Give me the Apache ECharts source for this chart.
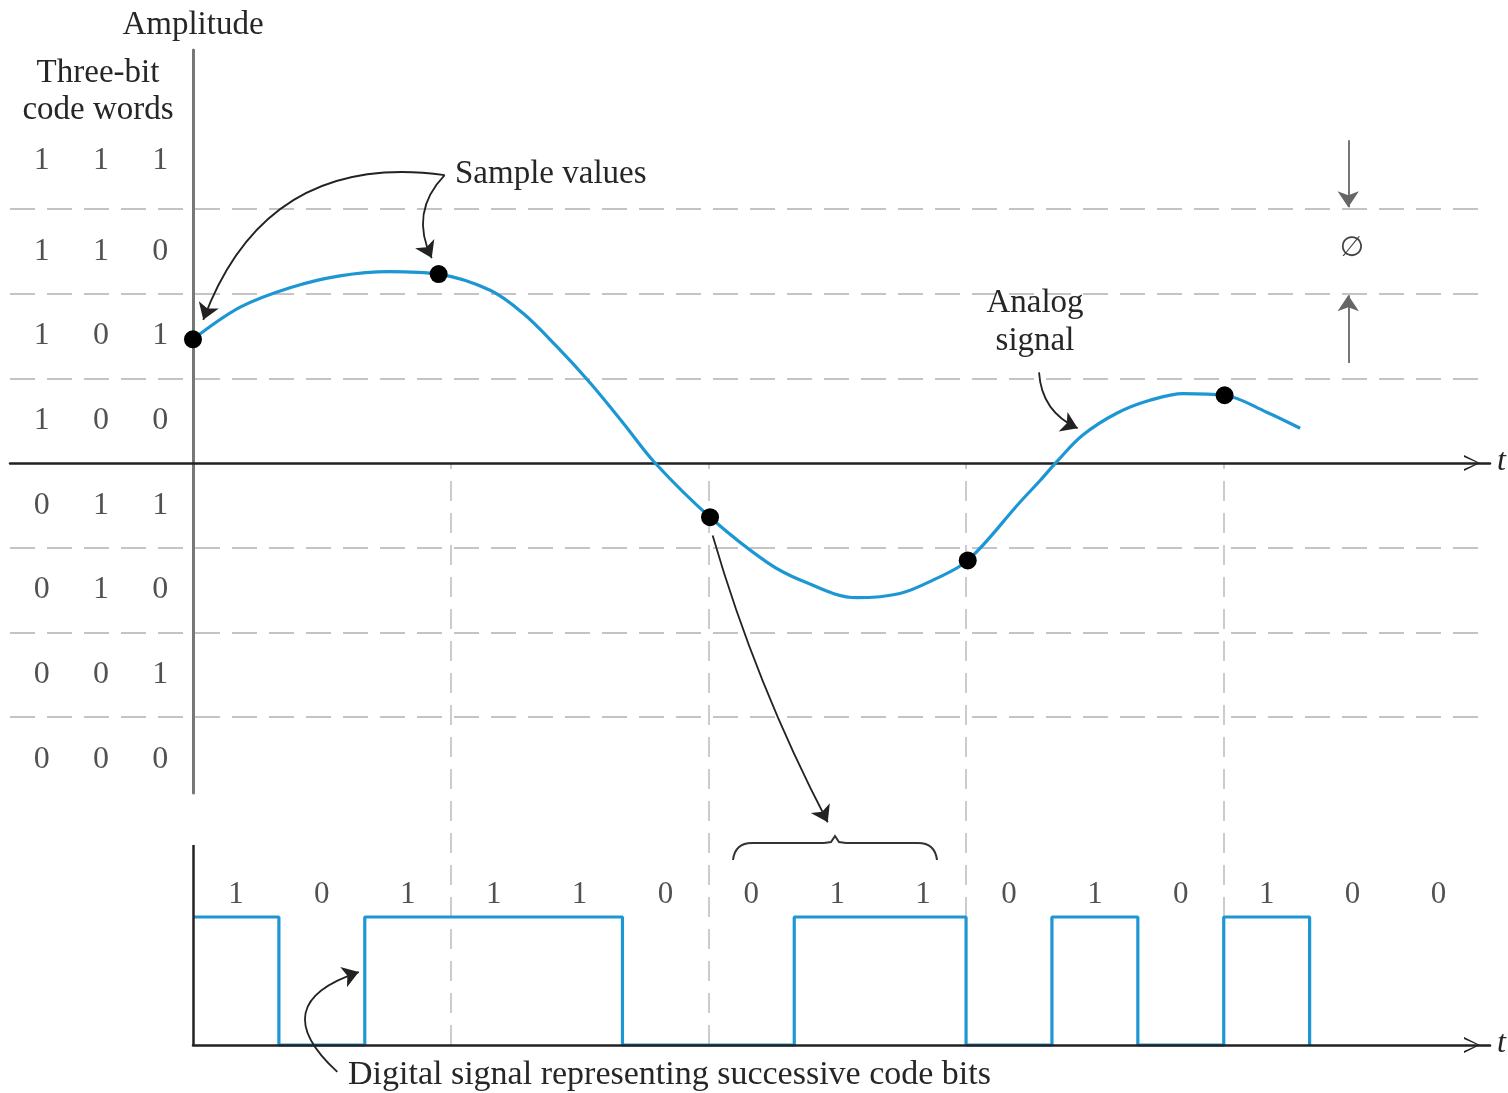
<!DOCTYPE html>
<html>
<head>
<meta charset="utf-8">
<script src="https://cdn.jsdelivr.net/npm/echarts@6/dist/echarts.min.js"></script>
<style>html,body{margin:0;padding:0;background:#fff;}#c{width:1508px;height:1093px;}</style>
</head>
<body>
<div id="c"></div>
<script>
// ---- data ----
const analogT = [0, 0.55, 1.13, 1.71, 2.29, 2.86, 3.46, 3.84, 4.24, 4.62, 5.01, 5.38, 6.02, 6.68, 7.07, 7.73, 8.23, 8.62, 9.02, 9.63, 9.86, 10.06, 10.36, 10.76, 11.14, 11.53, 12.01, 12.50, 12.89];
const analogV = [1.46, 1.84, 2.07, 2.21, 2.26, 2.23, 2.04, 1.77, 1.37, 0.95, 0.47, 0, -0.64, -1.17, -1.38, -1.59, -1.54, -1.38, -1.15, -0.46, -0.21, 0.02, 0.33, 0.59, 0.74, 0.82, 0.80, 0.60, 0.41];
const sampleT = [0, 2.86, 6.02, 9.02, 12.01];
const sampleV = [1.46, 2.23, -0.64, -1.15, 0.80];
const codeWords = ["111", "110", "101", "100", "011", "010", "001", "000"];
const codeRowV = [3.57, 2.5, 1.5, 0.5, -0.5, -1.5, -2.5, -3.5];
const codeColT = [-1.76, -1.07, -0.38];
const levelBounds = [-3, -2, -1, 1, 2, 3];
const sampleGridT = [3, 6, 9, 12];
const bits = [1, 0, 1, 1, 1, 0, 0, 1, 1, 0, 1, 0, 1, 0, 0];
const bitLabelU = 1.17;

// ---- derived ----
const FONT = "'Liberation Serif', 'DejaVu Serif', serif";
const TXT = '#262626';
const BLUE = '#1d97d4';
const U_TOP = 4.547;
const analogData = analogT.map((t, i) => [t, analogV[i]]);
const sampleData = sampleT.map((t, i) => [t, sampleV[i]]);
const codeData = [];
codeWords.forEach((w, r) => { for (let c = 0; c < 3; c++) codeData.push([codeColT[c], codeRowV[r], w[c]]); });
const lastOne = bits.lastIndexOf(1);
const digitalData = [];
for (let i = 0; i <= lastOne; i++) { digitalData.push([i, bits[i]]); digitalData.push([i + 1, bits[i]]); }
digitalData.push([lastOne + 1, 0]);
const bitLabelData = bits.map((b, i) => [i + 0.5, bitLabelU, String(b)]);

const chevron = 'path://M50,0 L100,100 L88,100 L50,14 L12,100 L0,100 Z';
const braceStyle = { stroke: '#333', lineWidth: 2, fill: null };

function arrow(from, to, curveness, color, width) {
  return { coords: [from, to], lineStyle: { curveness: curveness || 0, color: color || '#222', width: width || 1.8 } };
}
function arrowsSeries(g, items, symbols) {
  return { type: 'lines', coordinateSystem: 'cartesian2d', xAxisIndex: g, yAxisIndex: g, z: 6, clip: false, silent: true,
    symbol: symbols || ['none', 'arrow'], symbolSize: [10, 16],
    lineStyle: { color: '#222', width: 1.8, opacity: 1 }, data: items };
}
function txt(x, y, text, font, align) {
  return { type: 'text', x: x, y: y, z: 10, silent: true,
    style: { text: text, font: font, fill: TXT, textAlign: align || 'center', textVerticalAlign: 'middle' } };
}

const chart = echarts.init(document.getElementById('c'), null, { renderer: 'canvas' });
chart.setOption({
  backgroundColor: '#ffffff',
  animation: false,
  grid: [
    { left: 10, right: 18, top: 50, height: 743 },
    { left: 193, right: 18, top: 463, height: 630 }
  ],
  xAxis: [
    { gridIndex: 0, type: 'value', min: -2.13, max: 15.1, z: 3,
      axisLine: { show: true, onZero: true, lineStyle: { color: '#222', width: 2.5 }, symbol: ['none', chevron], symbolSize: [16, 36], symbolOffset: [0, -18] },
      axisTick: { show: false }, axisLabel: { show: false }, splitLine: { show: false } },
    { gridIndex: 1, type: 'value', min: 0, max: 15.1, z: 3,
      axisLine: { show: true, onZero: true, lineStyle: { color: '#222', width: 2.5 }, symbol: ['none', chevron], symbolSize: [16, 36], symbolOffset: [0, -18] },
      axisTick: { show: false }, axisLabel: { show: false }, splitLine: { show: false } }
  ],
  yAxis: [
    { gridIndex: 0, type: 'value', min: -3.896, max: 4.876, z: 3,
      axisLine: { show: true, onZero: true, lineStyle: { color: '#777', width: 3 } },
      axisTick: { show: false }, axisLabel: { show: false }, splitLine: { show: false } },
    { gridIndex: 1, type: 'value', min: -0.375, max: U_TOP,
      axisLine: { show: false }, axisTick: { show: false }, axisLabel: { show: false }, splitLine: { show: false } }
  ],
  series: [
    { type: 'line', xAxisIndex: 0, yAxisIndex: 0, data: [], z: 1, silent: true,
      markLine: { z: 1, silent: true, symbol: 'none', label: { show: false },
        lineStyle: { color: '#c4c4c4', width: 2, type: [25, 12] },
        data: levelBounds.map(v => ({ yAxis: v })) } },
    { type: 'line', xAxisIndex: 1, yAxisIndex: 1, data: [], z: 1, silent: true,
      markLine: { z: 1, silent: true, symbol: 'none', label: { show: false },
        lineStyle: { color: '#cccccc', width: 2, type: [20, 12] },
        data: sampleGridT.map(t => [{ coord: [t, 0] }, { coord: [t, U_TOP] }]) } },
    { type: 'line', xAxisIndex: 0, yAxisIndex: 0, data: analogData, smooth: 0.35, showSymbol: false, z: 4,
      lineStyle: { color: BLUE, width: 3.2 }, silent: true },
    { type: 'scatter', xAxisIndex: 0, yAxisIndex: 0, data: sampleData, symbolSize: 18, z: 5,
      itemStyle: { color: '#000', opacity: 1 }, silent: true },
    { type: 'scatter', xAxisIndex: 0, yAxisIndex: 0, data: codeData, symbolSize: 1, z: 5, silent: true,
      itemStyle: { color: 'rgba(0,0,0,0)' },
      label: { show: true, position: 'inside', formatter: p => p.data[2], fontFamily: FONT, fontSize: 32, color: TXT } },
    { type: 'line', xAxisIndex: 1, yAxisIndex: 1, data: digitalData, showSymbol: false, z: 2,
      lineStyle: { color: BLUE, width: 3.2 }, silent: true },
    { type: 'scatter', xAxisIndex: 1, yAxisIndex: 1, data: bitLabelData, symbolSize: 1, z: 5, silent: true,
      itemStyle: { color: 'rgba(0,0,0,0)' },
      label: { show: true, position: 'inside', formatter: p => p.data[2], fontFamily: FONT, fontSize: 31, color: TXT } },
    // annotation arrows
    arrowsSeries(0, [
      arrow([2.93, 3.40], [0.12, 1.69], -0.4),
      arrow([2.93, 3.40], [2.78, 2.42], -0.35),
      arrow([9.85, 1.07], [10.30, 0.41], -0.3),
      arrow([13.45, 3.81], [13.45, 3.02], 0, '#666'),
      arrow([13.45, 1.18], [13.45, 1.98], 0, '#666')
    ]),
    arrowsSeries(1, [
      arrow([6.05, 3.98], [7.39, 1.74], -0.05),
      arrow([1.68, -0.21], [1.93, 0.57], 0.85)
    ]),
    arrowsSeries(1, [arrow([0, 0], [0, 1.5625], 0, '#222', 2.5)], 'none')
  ],
  graphic: [
    txt(193, 25, 'Amplitude', '33px ' + FONT),
    txt(98, 73, 'Three-bit', '33px ' + FONT),
    txt(98, 110, 'code words', '33px ' + FONT),
    txt(455, 174, 'Sample values', '33px ' + FONT, 'left'),
    txt(1035, 303, 'Analog', '33px ' + FONT),
    txt(1035, 341, 'signal', '33px ' + FONT),
    txt(348, 1075, 'Digital signal representing successive code bits', '34px ' + FONT, 'left'),
    { type: 'text', x: 1352, y: 249, z: 10, silent: true, style: { text: '\u2205', font: '28px "DejaVu Sans"', fill: '#444', textAlign: 'center', textVerticalAlign: 'middle' } },
    txt(1497, 462, 't', 'italic 32px ' + FONT, 'left'),
    txt(1497, 1044, 't', 'italic 32px ' + FONT, 'left'),
    { type: 'bezierCurve', z: 10, silent: true, shape: { x1: 733, y1: 860, cpx1: 735, cpy1: 843, x2: 752, y2: 843 }, style: braceStyle },
    { type: 'line', z: 10, silent: true, shape: { x1: 752, y1: 843, x2: 824, y2: 843 }, style: braceStyle },
    { type: 'polyline', z: 10, silent: true, shape: { points: [[824, 843], [831, 842], [835, 836], [839, 842], [846, 843]] }, style: braceStyle },
    { type: 'line', z: 10, silent: true, shape: { x1: 846, y1: 843, x2: 918, y2: 843 }, style: braceStyle },
    { type: 'bezierCurve', z: 10, silent: true, shape: { x1: 918, y1: 843, cpx1: 935, cpy1: 843, x2: 937, y2: 860 }, style: braceStyle }
  ]
});
</script>
</body>
</html>
